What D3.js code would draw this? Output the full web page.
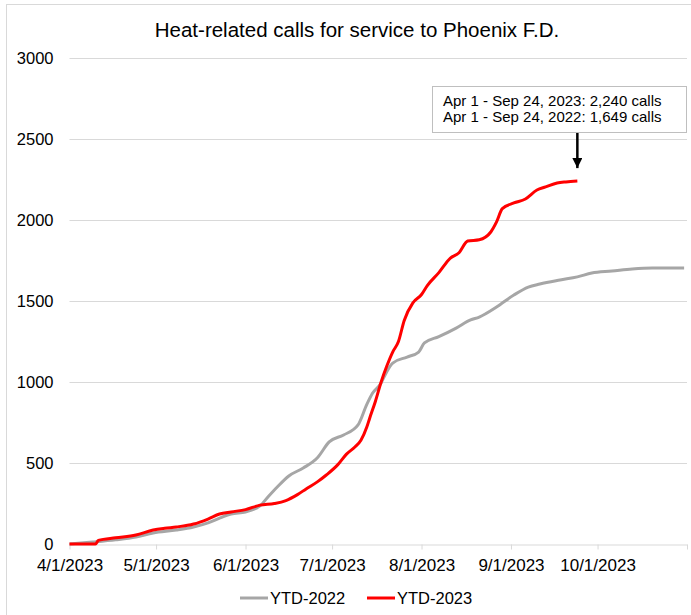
<!DOCTYPE html>
<html>
<head>
<meta charset="utf-8">
<script src="https://cdn.jsdelivr.net/npm/d3@7"></script>
<style>
    body { margin: 0; background: #fff; }
    svg { font-family: "Liberation Sans", Arial, sans-serif; }
</style>
</head>
<body>
<div id="chart"></div>
<script>

// ----- DATA -----

var monthTicks = ["4/1", "5/1", "6/1", "7/1", "8/1", "9/1", "10/1", "11/1"];
var monthLabels = ["4/1/2023", "5/1/2023", "6/1/2023", "7/1/2023", "8/1/2023", "9/1/2023", "10/1/2023", ""];
var yTicks = [0, 500, 1000, 1500, 2000, 2500, 3000];

var days2022 = ["4/1", "4/9", "4/17", "4/24", "4/30", "5/8", "5/14", "5/19", "5/23", "5/27",
    "6/1", "6/4", "6/6", "6/9", "6/12", "6/16", "6/21", "6/26", "6/30", "7/5",
    "7/10", "7/13", "7/15", "7/18", "7/19", "7/22", "7/27", "7/31", "8/2", "8/7",
    "8/13", "8/18", "8/21", "8/27", "9/2", "9/7", "9/11", "9/18", "9/24", "9/29",
    "10/6", "10/13", "10/20", "10/31"];
var ytd2022 = [0, 12, 26, 43, 68, 86, 105, 130, 160, 185,
    198, 215, 235, 295, 352, 420, 469, 534, 630, 673,
    735, 860, 930, 994, 1031, 1117, 1154, 1185, 1241, 1280,
    1333, 1383, 1401, 1463, 1537, 1586, 1605, 1630, 1649, 1673,
    1685, 1698, 1704, 1704];

var days2023 = ["4/1", "4/9", "4/10", "4/11", "4/17", "4/24", "4/30", "5/4", "5/8", "5/14",
    "5/19", "5/23", "5/27", "6/1", "6/6", "6/11", "6/15", "6/19", "6/22", "6/26",
    "6/29", "7/3", "7/6", "7/9", "7/11", "7/13", "7/14", "7/16", "7/18", "7/20",
    "7/22", "7/24", "7/26", "7/29", "8/1", "8/3", "8/7", "8/11", "8/14", "8/17",
    "8/21", "8/25", "8/27", "8/29", "9/2", "9/6", "9/10", "9/13", "9/17", "9/20",
    "9/24"];
var ytd2023 = [0, 0, 0, 22, 38, 55, 86, 97, 105, 123,
    154, 185, 198, 212, 240, 250, 268, 305, 340, 385,
    426, 490, 555, 600, 640, 720, 775, 880, 1000, 1100,
    1185, 1250, 1380, 1488, 1540, 1595, 1675, 1765, 1798, 1870,
    1878, 1926, 1988, 2070, 2105, 2130, 2185, 2204, 2228, 2235,
    2240];

var noteLines = ["Apr 1 - Sep 24, 2023: 2,240 calls", "Apr 1 - Sep 24, 2022: 1,649 calls"];

// ----- SETUP -----

var width = 691, height = 615;
var parse = d3.timeParse("%m/%d/%Y");
function toDate(md) { return parse(md + "/2023"); }

var svg = d3.select("#chart").append("svg")
    .attr("width", width)
    .attr("height", height);

// chart area border
svg.append("rect")
    .attr("x", 6.5).attr("y", 4.5)
    .attr("width", 720).attr("height", 640)
    .attr("fill", "none")
    .attr("stroke", "#D9D9D9");

var x = d3.scaleTime()
    .domain([toDate("4/1"), toDate("11/1")])
    .range([69.5, 687]);

var y = d3.scaleLinear()
    .domain([0, 3000])
    .range([544, 58]);

// ----- TITLE -----

svg.append("text")
    .attr("x", 357).attr("y", 37)
    .attr("text-anchor", "middle")
    .style("font-size", "20.5px")
    .attr("fill", "#000")
    .text("Heat-related calls for service to Phoenix F.D.");

// ----- GRID + AXES -----

svg.append("g").selectAll("line")
    .data(yTicks.filter(function(d) { return d > 0; }))
    .join("line")
    .attr("x1", x.range()[0]).attr("x2", x.range()[1])
    .attr("y1", function(d) { return Math.round(y(d)) + 0.5; })
    .attr("y2", function(d) { return Math.round(y(d)) + 0.5; })
    .attr("stroke", "#D9D9D9")
    .attr("stroke-width", 1);

var yAxis = svg.append("g")
    .attr("transform", "translate(" + x.range()[0] + ",0)")
    .call(d3.axisLeft(y).tickValues(yTicks).tickFormat(d3.format("d")).tickSize(0).tickPadding(16));
yAxis.select(".domain").remove();
yAxis.selectAll("text").style("font-size", "16.5px").attr("fill", "#000");

var xAxis = svg.append("g")
    .attr("transform", "translate(0," + (y(0) + 0.5) + ")")
    .call(d3.axisBottom(x)
        .tickValues(monthTicks.map(toDate))
        .tickFormat(function(d, i) { return monthLabels[i]; })
        .tickSizeInner(5).tickSizeOuter(0).tickPadding(9));
xAxis.select(".domain").attr("stroke", "#D9D9D9");
xAxis.selectAll(".tick line").attr("stroke", "#D9D9D9");
xAxis.selectAll("text").style("font-size", "17px").attr("fill", "#000");

// ----- LINES -----

var line = d3.line()
    .x(function(d) { return x(d.date); })
    .y(function(d) { return y(d.value); })
    .curve(d3.curveMonotoneX);

var series = [
    { name: "YTD-2022", color: "#A6A6A6", days: days2022, values: ytd2022 },
    { name: "YTD-2023", color: "#FF0000", days: days2023, values: ytd2023 }
];

series.forEach(function(s) {
    var pts = s.days.map(function(d, i) { return { date: toDate(d), value: s.values[i] }; });
    svg.append("path")
        .datum(pts)
        .attr("d", line)
        .attr("fill", "none")
        .attr("stroke", s.color)
        .attr("stroke-width", 3)
        .attr("stroke-linejoin", "round");
});

// ----- ANNOTATION -----

var endX = x(toDate(days2023[days2023.length - 1]));
var endY = y(ytd2023[ytd2023.length - 1]);

svg.append("rect")
    .attr("x", 432.5).attr("y", 86.5)
    .attr("width", 254).attr("height", 46)
    .attr("fill", "#fff")
    .attr("stroke", "#BFBFBF");

svg.append("g").selectAll("text")
    .data(noteLines)
    .join("text")
    .attr("x", 443)
    .attr("y", function(d, i) { return 106 + i * 16; })
    .style("font-size", "15px")
    .attr("fill", "#000")
    .text(function(d) { return d; });

svg.append("defs").append("marker")
    .attr("id", "arrow")
    .attr("viewBox", "0 0 10 10")
    .attr("refX", 10).attr("refY", 5)
    .attr("markerWidth", 4).attr("markerHeight", 4)
    .attr("orient", "auto")
    .append("path")
    .attr("d", "M0,0 L10,5 L0,10 Z")
    .attr("fill", "#000");

svg.append("line")
    .attr("x1", endX).attr("x2", endX)
    .attr("y1", 133).attr("y2", endY - 13)
    .attr("stroke", "#000")
    .attr("stroke-width", 2.5)
    .attr("marker-end", "url(#arrow)");

// ----- LEGEND -----

var legend = svg.append("g").selectAll("g")
    .data(series)
    .join("g")
    .attr("transform", function(d, i) { return "translate(" + (240 + i * 127) + ",598)"; });

legend.append("line")
    .attr("x1", 0).attr("x2", 28)
    .attr("stroke", function(d) { return d.color; })
    .attr("stroke-width", 3);

legend.append("text")
    .attr("x", 30).attr("dy", "0.35em")
    .style("font-size", "16.5px")
    .attr("fill", "#000")
    .text(function(d) { return d.name; });

</script>
</body>
</html>
